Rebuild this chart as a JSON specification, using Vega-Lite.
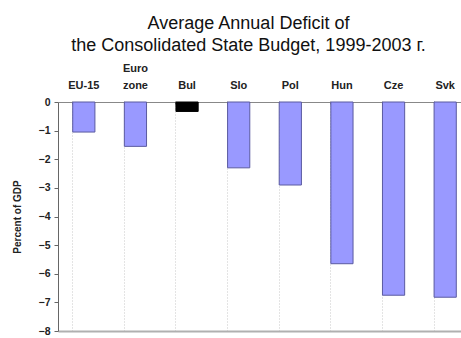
{
  "$schema": "https://vega.github.io/schema/vega-lite/v6.json",
  "autosize": "none",
  "width": 403,
  "height": 229,
  "padding": {"left": 58, "top": 102, "right": 0, "bottom": 7},
  "background": "white",
  "config": {"view": {"stroke": null}, "font": "Liberation Sans"},
  "title": {
    "text": ["Average Annual Deficit of", "the Consolidated State Budget, 1999-2003 г."],
    "font": "Liberation Sans",
    "fontSize": 18,
    "fontWeight": "normal",
    "color": "#111",
    "lineHeight": 22,
    "anchor": "middle",
    "frame": "group",
    "dx": -11,
    "offset": 8
  },
  "data": {
    "values": [
      {"country": "EU-15", "deficit": -1.05, "group": "other"},
      {"country": "Euro zone", "deficit": -1.55, "group": "other"},
      {"country": "Bul", "deficit": -0.33, "group": "bul"},
      {"country": "Slo", "deficit": -2.3, "group": "other"},
      {"country": "Pol", "deficit": -2.9, "group": "other"},
      {"country": "Hun", "deficit": -5.65, "group": "other"},
      {"country": "Cze", "deficit": -6.75, "group": "other"},
      {"country": "Svk", "deficit": -6.82, "group": "other"}
    ]
  },
  "resolve": {"axis": {"x": "independent"}},
  "encoding": {
    "y": {
      "field": "deficit", "type": "quantitative",
      "scale": {"domain": [-8, 0], "nice": false},
      "axis": {
        "title": "Percent of GDP", "titleFont": "Liberation Sans", "titleFontSize": 10, "titleFontWeight": "bold",
        "titleColor": "#222", "titlePadding": 16,
        "values": [0, -1, -2, -3, -4, -5, -6, -7, -8], "labelOverlap": false,
        "labelFont": "Liberation Sans", "labelFontSize": 10.5, "labelFontWeight": "bold", "labelColor": "#222",
        "tickSize": 4, "tickColor": "#666", "domainColor": "#666", "grid": false, "labelPadding": 4
      }
    }
  },
  "layer": [
    {
      "mark": {"type": "bar", "opacity": 0},
      "encoding": {
        "x": {
          "field": "country", "type": "nominal", "sort": null,
          "scale": {"range": [0, 413], "paddingInner": 0.57, "paddingOuter": 0.285},
          "axis": {
            "orient": "bottom", "title": null, "labels": false, "ticks": false,
            "bandPosition": 0, "grid": true, "gridColor": "#c8c8c8", "gridDash": [1, 2], "gridWidth": 1,
            "domain": true, "domainColor": "#b0b0b0", "domainWidth": 2
          }
        }
      }
    },
    {
      "mark": {"type": "bar", "opacity": 0},
      "encoding": {
        "x": {
          "field": "country", "type": "nominal", "sort": null,
          "axis": {
            "orient": "top", "title": null, "labels": false, "ticks": true, "tickSize": 3,
            "bandPosition": 0, "tickColor": "#888", "grid": false, "domain": false, "offset": -2
          }
        }
      }
    },
    {
      "mark": {"type": "bar", "strokeWidth": 1},
      "encoding": {
        "x": {
          "field": "country", "type": "nominal", "sort": null,
          "axis": {
            "orient": "top", "title": null, "labelAngle": 0, "ticks": false,
            "labelFont": "Liberation Sans", "labelFontSize": 11, "labelFontWeight": "bold", "labelColor": "#222",
            "labelPadding": 30.5, "labelLineHeight": 16.5, "labelBaseline": "alphabetic",
            "labelExpr": "datum.value == 'Euro zone' ? ['Euro', 'zone'] : [' ', datum.value]",
            "domain": true, "domainColor": "#888", "domainWidth": 1, "grid": false
          }
        },
        "color": {
          "field": "group", "type": "nominal", "legend": null,
          "scale": {"domain": ["other", "bul"], "range": ["#9999ff", "#000000"]}
        },
        "stroke": {
          "field": "group", "type": "nominal", "legend": null,
          "scale": {"domain": ["other", "bul"], "range": ["#5a5aa0", "#000000"]}
        }
      }
    }
  ]
}
